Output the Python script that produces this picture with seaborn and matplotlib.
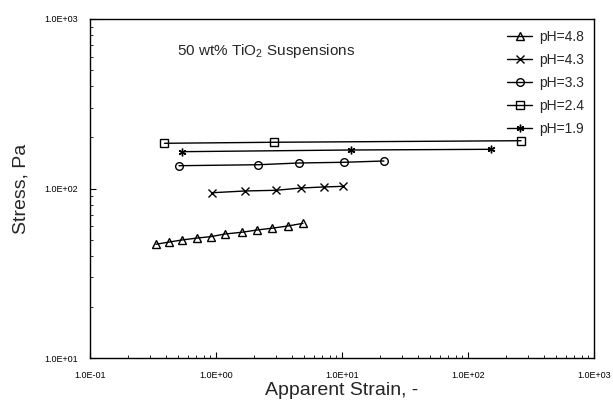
import matplotlib
matplotlib.use("Agg")
import matplotlib.pyplot as plt
import seaborn as sns
import pandas as pd
from matplotlib.ticker import LogLocator, FuncFormatter, NullFormatter
from matplotlib.lines import Line2D

sns.set_theme(style="white")
plt.rcParams['font.family'] = ['Liberation Sans', 'DejaVu Sans']
plt.rcParams['mathtext.fontset'] = 'custom'
plt.rcParams['mathtext.rm'] = 'Liberation Sans'
plt.rcParams['mathtext.it'] = 'Liberation Sans:italic'

# Data
ph48_x = [0.334, 0.424, 0.537, 0.706, 0.91, 1.18, 1.61, 2.11, 2.78, 3.73, 4.90]
ph48_y = [46.9, 48.3, 49.7, 51.0, 52.0, 53.9, 55.2, 56.9, 58.3, 60.1, 62.3]
ph43_x = [0.93, 1.70, 2.99, 4.73, 7.19, 10.2]
ph43_y = [94.4, 96.7, 97.6, 100.7, 102.1, 103.0]
ph33_x = [0.508, 2.15, 4.56, 10.4, 21.5]
ph33_y = [136.3, 138.1, 141.4, 142.8, 145.3]
ph24_x = [0.39, 2.89, 263.5]
ph24_y = [184.8, 187.4, 191.4]
ph19_x = [0.535, 11.7, 151.0]
ph19_y = [164.9, 168.7, 170.3]

labels = ["pH=4.8", "pH=4.3", "pH=3.3", "pH=2.4", "pH=1.9"]
xs = [ph48_x, ph43_x, ph33_x, ph24_x, ph19_x]
ys = [ph48_y, ph43_y, ph33_y, ph24_y, ph19_y]

markers = {"pH=4.8": "^", "pH=4.3": "x", "pH=3.3": "o", "pH=2.4": "s", "pH=1.9": (6, 2, 0)}

fig = plt.figure(figsize=(6.13, 4.07), dpi=100)
ax = fig.add_axes([90/613, 1-358/407, (594-90)/613, (358-19)/407])

for lab, xx, yy in zip(labels, xs, ys):
    d = pd.DataFrame({"strain": xx, "stress": yy})
    sns.lineplot(data=d, x="strain", y="stress", ax=ax, color="black",
                 linewidth=1.0, marker=markers[lab], markersize=5.5,
                 markerfacecolor="none", markeredgecolor="black",
                 markeredgewidth=1.0, sort=False, estimator=None, legend=False)

ax.set_xscale("log")
ax.set_yscale("log")
ax.set_xlim(0.1, 1000)
ax.set_ylim(10, 1000)

fmt = FuncFormatter(lambda v, p: f"{v:.1E}")
ax.xaxis.set_major_locator(LogLocator(base=10, numticks=10))
ax.yaxis.set_major_locator(LogLocator(base=10, numticks=10))
ax.xaxis.set_major_formatter(fmt)
ax.yaxis.set_major_formatter(fmt)
ax.xaxis.set_minor_locator(LogLocator(base=10, subs=range(2, 10), numticks=20))
ax.yaxis.set_minor_locator(LogLocator(base=10, subs=range(2, 10), numticks=20))
ax.xaxis.set_minor_formatter(NullFormatter())
ax.yaxis.set_minor_formatter(NullFormatter())
ax.tick_params(which="major", direction="in", length=4, width=0.8, labelsize=6.5,
               bottom=True, left=True, top=False, right=False, colors="black")
ax.tick_params(axis="x", which="major", pad=9)
ax.tick_params(axis="y", which="major", pad=9)
ax.tick_params(which="minor", direction="in", length=2.5, width=0.6,
               bottom=True, left=True, top=False, right=False, colors="black")
for s in ax.spines.values():
    s.set_color("black")
    s.set_linewidth(1.0)

ax.set_xlabel("Apparent Strain, -", fontsize=14, labelpad=2)
ax.set_ylabel("Stress, Pa", fontsize=14, labelpad=10)

ax.text(0.173, 0.905, "50 wt% TiO$_2$ Suspensions", transform=ax.transAxes,
        fontsize=11, va="center", ha="left")

handles = [Line2D([0], [0], color="black", lw=1.0, marker=markers[l], markersize=5.5,
                  markerfacecolor="none", markeredgecolor="black", markeredgewidth=1.0)
           for l in labels]
leg = ax.legend(handles, labels, loc="upper right", bbox_to_anchor=(1.0, 0.997),
                frameon=False, fontsize=10, handlelength=1.8, handletextpad=0.5,
                labelspacing=0.65, borderaxespad=0.3)

fig.savefig("out.png", dpi=100)
